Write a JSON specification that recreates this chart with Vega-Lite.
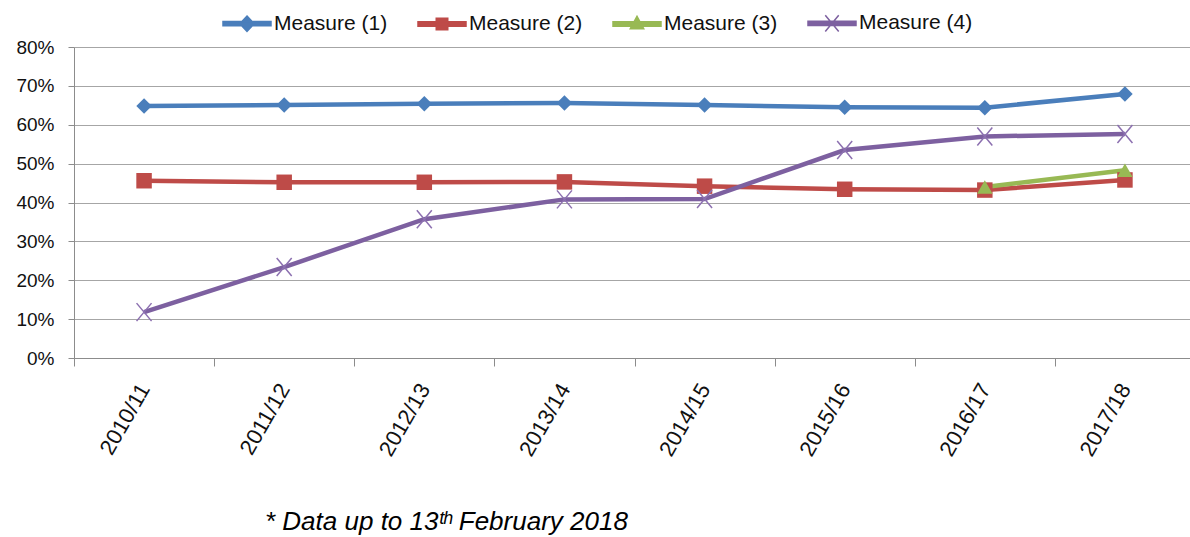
{
  "$schema": "https://vega.github.io/schema/vega-lite/v6.json",
  "width": 1121,
  "height": 311,
  "autosize": {"type": "none"},
  "padding": {"left": 74, "top": 47, "right": 0, "bottom": 179},
  "background": "white",
  "config": {"view": {"stroke": null}, "font": "Liberation Sans"},
  "title": {
    "text": "* Data up to 13ᵗʰ February 2018",
    "orient": "bottom",
    "anchor": "start",
    "frame": "group",
    "dx": 191,
    "offset": 50,
    "font": "Liberation Sans",
    "fontStyle": "italic",
    "fontWeight": "normal",
    "fontSize": 26,
    "color": "#000000"
  },
  "data": {
    "values": [
      {"year": "2010/11", "series": "Measure (1)", "value": 0.648},
      {"year": "2011/12", "series": "Measure (1)", "value": 0.651},
      {"year": "2012/13", "series": "Measure (1)", "value": 0.654},
      {"year": "2013/14", "series": "Measure (1)", "value": 0.656},
      {"year": "2014/15", "series": "Measure (1)", "value": 0.651},
      {"year": "2015/16", "series": "Measure (1)", "value": 0.645},
      {"year": "2016/17", "series": "Measure (1)", "value": 0.644},
      {"year": "2017/18", "series": "Measure (1)", "value": 0.679},
      {"year": "2010/11", "series": "Measure (2)", "value": 0.456},
      {"year": "2011/12", "series": "Measure (2)", "value": 0.452},
      {"year": "2012/13", "series": "Measure (2)", "value": 0.452},
      {"year": "2013/14", "series": "Measure (2)", "value": 0.453},
      {"year": "2014/15", "series": "Measure (2)", "value": 0.442},
      {"year": "2015/16", "series": "Measure (2)", "value": 0.434},
      {"year": "2016/17", "series": "Measure (2)", "value": 0.432},
      {"year": "2017/18", "series": "Measure (2)", "value": 0.458},
      {"year": "2016/17", "series": "Measure (3)", "value": 0.44},
      {"year": "2017/18", "series": "Measure (3)", "value": 0.483},
      {"year": "2010/11", "series": "Measure (4)", "value": 0.118},
      {"year": "2011/12", "series": "Measure (4)", "value": 0.234},
      {"year": "2012/13", "series": "Measure (4)", "value": 0.357},
      {"year": "2013/14", "series": "Measure (4)", "value": 0.408},
      {"year": "2014/15", "series": "Measure (4)", "value": 0.409},
      {"year": "2015/16", "series": "Measure (4)", "value": 0.535},
      {"year": "2016/17", "series": "Measure (4)", "value": 0.570},
      {"year": "2017/18", "series": "Measure (4)", "value": 0.576}
    ]
  },
  "encoding": {
    "x": {
      "field": "year",
      "type": "nominal",
      "sort": null,
      "scale": {"type": "band", "paddingInner": 0, "paddingOuter": 0},
      "axis": {
        "title": null,
        "labelAngle": -60,
        "labelFont": "Liberation Sans",
        "labelFontSize": 22,
        "labelColor": "#111111",
        "tickBand": "extent",
        "tickSize": 8,
        "tickColor": "#8c8c8c",
        "domainColor": "#8c8c8c",
        "labelPadding": 19,
        "grid": false
      }
    },
    "y": {
      "field": "value",
      "type": "quantitative",
      "scale": {"domain": [0, 0.8], "nice": false},
      "axis": {
        "title": null,
        "values": [0, 0.1, 0.2, 0.3, 0.4, 0.5, 0.6, 0.7, 0.8],
        "format": ".0%",
        "labelFont": "Liberation Sans",
        "labelFontSize": 19,
        "labelColor": "#111111",
        "tickSize": 6,
        "tickColor": "#8c8c8c",
        "domainColor": "#8c8c8c",
        "gridColor": "#a6a6a6",
        "labelPadding": 14
      }
    }
  },
  "layer": [
    {
      "transform": [{"filter": "datum.series != 'Measure (4)'"}],
      "mark": {"type": "line", "strokeWidth": 4.5},
      "encoding": {
        "color": {
          "field": "series", "type": "nominal",
          "scale": {"domain": ["Measure (1)", "Measure (2)", "Measure (3)", "Measure (4)"], "range": ["#4a7ebb", "#be4b48", "#98b954", "#7d60a0"]},
          "legend": null
        }
      }
    },
    {
      "transform": [{"filter": "datum.series != 'Measure (4)'"}],
      "mark": {"type": "point", "filled": true, "opacity": 1, "size": 240, "strokeWidth": 0},
      "encoding": {
        "color": {
          "field": "series", "type": "nominal",
          "scale": {"domain": ["Measure (1)", "Measure (2)", "Measure (3)", "Measure (4)"], "range": ["#4a7ebb", "#be4b48", "#98b954", "#7d60a0"]},
          "legend": null
        },
        "shape": {
          "field": "series", "type": "nominal",
          "scale": {"domain": ["Measure (1)", "Measure (2)", "Measure (3)", "Measure (4)"], "range": ["diamond", "square", "triangle-up", "cross"]},
          "legend": null
        }
      }
    },
    {
      "transform": [{"filter": "datum.series == 'Measure (4)'"}],
      "mark": {"type": "line", "strokeWidth": 4.5, "color": "#7d60a0"},
      "encoding": {}
    },
    {
      "transform": [{"filter": "datum.series == 'Measure (4)'"}],
      "mark": {"type": "point", "filled": false, "opacity": 1, "size": 225, "strokeWidth": 1.5, "color": "#8c70b0", "shape": "M-1,-1.2L1,1.2M-1,1.2L1,-1.2"},
      "encoding": {}
    },
    {
      "transform": [{"filter": "false"}],
      "mark": {"type": "point", "opacity": 1},
      "encoding": {
        "fill": {
          "field": "series", "type": "nominal",
          "scale": {"domain": ["Measure (1)", "Measure (2)", "Measure (3)", "Measure (4)"], "range": ["#4a7ebb", "#be4b48", "#98b954", "#7d60a0"]},
          "legend": {
            "title": null, "orient": "none", "direction": "horizontal",
            "legendX": 148, "legendY": -49, "padding": 0,
            "symbolSize": 2304, "symbolStrokeWidth": 1.5, "symbolOpacity": 1,
            "labelFont": "Liberation Sans", "labelFontSize": 21, "labelColor": "#111111",
            "labelOffset": 2, "labelLimit": 200, "columnPadding": 27
          }
        },
        "stroke": {
          "field": "series", "type": "nominal",
          "scale": {"domain": ["Measure (1)", "Measure (2)", "Measure (3)", "Measure (4)"], "range": ["#4a7ebb", "#be4b48", "#98b954", "#7d60a0"]},
          "legend": {
            "title": null, "orient": "none", "direction": "horizontal",
            "legendX": 148, "legendY": -49, "padding": 0,
            "symbolSize": 2304, "symbolStrokeWidth": 1.5, "symbolOpacity": 1,
            "labelFont": "Liberation Sans", "labelFontSize": 21, "labelColor": "#111111",
            "labelOffset": 2, "labelLimit": 200, "columnPadding": 27
          }
        },
        "shape": {
          "field": "series", "type": "nominal",
          "scale": {
            "domain": ["Measure (1)", "Measure (2)", "Measure (3)", "Measure (4)"],
            "range": [
              "M-1,-0.09H1V0.09H-1ZM0,-0.32L0.3,0L0,0.32L-0.3,0Z",
              "M-1,-0.09H1V0.09H-1ZM-0.24,-0.24H0.24V0.24H-0.24Z",
              "M-1,-0.09H1V0.09H-1ZM0,-0.32L0.28,0.2H-0.28Z",
              "M-1,-0.09H1V0.09H-1ZM-0.28,-0.34L0.28,0.34M-0.28,0.34L0.28,-0.34"
            ]
          },
          "legend": {
            "title": null, "orient": "none", "direction": "horizontal",
            "legendX": 148, "legendY": -49, "padding": 0,
            "symbolSize": 2304, "symbolStrokeWidth": 1.5, "symbolOpacity": 1,
            "labelFont": "Liberation Sans", "labelFontSize": 21, "labelColor": "#111111",
            "labelOffset": 2, "labelLimit": 200, "columnPadding": 27
          }
        }
      }
    }
  ],
  "resolve": {"scale": {"color": "independent", "shape": "independent", "fill": "independent", "stroke": "independent"}}
}
